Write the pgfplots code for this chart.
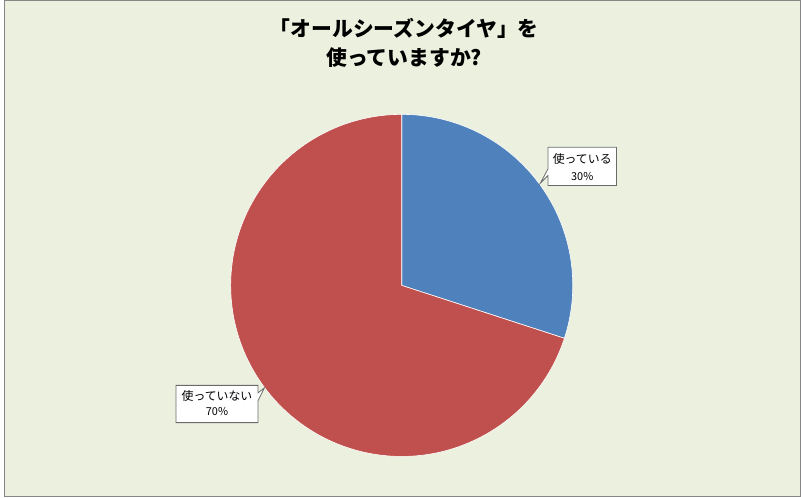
\documentclass[border=0pt]{standalone}
\usepackage{pgfplots}
\pgfplotsset{compat=1.18}
\usepackage{pgfplotstable}
\usepackage{fontspec}
\setmainfont{Noto Sans CJK JP}
\definecolor{bgcol}{HTML}{EBF1DE}
\definecolor{pieblue}{HTML}{4F81BD}
\definecolor{piered}{HTML}{C0504D}
\definecolor{framegray}{HTML}{868686}
\definecolor{callgray}{HTML}{6A6A6A}

\pgfplotstableread{
share
30
70
}\piedata

\begin{document}
\pgfplotstablegetelem{0}{share}\of\piedata \let\shareA\pgfplotsretval
\pgfplotstablegetelem{1}{share}\of\piedata \let\shareB\pgfplotsretval
\pgfmathsetmacro\angA{90-3.6*\shareA}
\pgfmathsetmacro\angB{\angA-3.6*\shareB}
\begin{tikzpicture}
\useasboundingbox (0,0) rectangle (801bp,500bp);
\fill[bgcol] (0,0) rectangle (801bp,500bp);
\draw[framegray, line width=1bp] (0.5bp,0.5bp) rectangle (800.5bp,499.5bp);
\begin{axis}[at={(0,0)}, anchor=south west, scale only axis,
  width=801bp, height=500bp, xmin=0, xmax=801, ymin=0, ymax=500,
  hide axis, clip=false]
\addplot[fill=pieblue, draw=white, line width=0.6bp, domain=\angA:90, samples=150]
  ({399.5+172*cos(x)},{213+172*sin(x)}) -- (399.5,213) -- cycle;
\addplot[fill=piered, draw=white, line width=0.6bp, domain=\angB:\angA, samples=300]
  ({399.5+172*cos(x)},{213+172*sin(x)}) -- (399.5,213) -- cycle;
% title
\node[font=\bfseries\fontsize{21}{24}\selectfont] at (402,471) {「オールシーズンタイヤ」を};
\node[font=\bfseries\fontsize{21}{24}\selectfont] at (402,442) {使っていますか?};
% callout 1
\draw[fill=white, draw=callgray, line width=0.8bp]
  (546.5,352) -- (615.5,352) -- (615.5,313.5) -- (546.5,313.5) -- (546.5,323.5)
  -- (539,316) -- (546.5,330) -- cycle;
\node[font=\fontsize{12}{14}\selectfont] at (581,340) {使っている};
\node[font=\fontsize{11}{13}\selectfont] at (581,322.5) {30\%};
% callout 2
\draw[fill=white, draw=callgray, line width=0.8bp]
  (172.5,112.5) -- (255,112.5) -- (255,105) -- (261.5,110) -- (255,97)
  -- (255,75) -- (172.5,75) -- cycle;
\node[font=\fontsize{12}{14}\selectfont] at (213.75,102) {使っていない};
\node[font=\fontsize{11}{13}\selectfont] at (213.75,86) {70\%};
\end{axis}
\end{tikzpicture}
\end{document}
